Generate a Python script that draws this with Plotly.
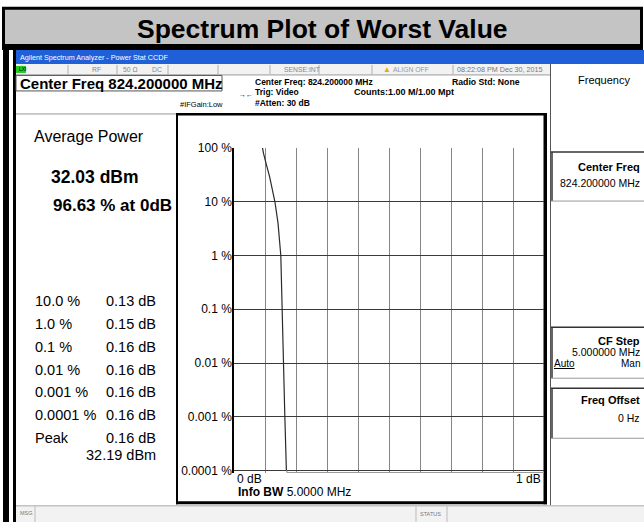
import plotly.graph_objects as go

# ---------------- data ----------------
ccdf_db = [0.092, 0.095, 0.104, 0.115, 0.132, 0.142, 0.151, 0.155, 0.158, 0.164, 0.169]
ccdf_pct = [100, 80, 50, 29, 10, 4, 1, 0.1, 0.01, 0.001, 0.0001]
tail_db = [0.169, 0.172, 1.0]
tail_pct = [0.0001, 0.0000915, 0.0000915]
y_tick_vals = [100, 10, 1, 0.1, 0.01, 0.001, 0.0001]
y_tick_text = ["100 %", "10 %", "1 %", "0.1 %", "0.01 %", "0.001 %", "0.0001 %"]
stat_labels = ["10.0 %", "1.0 %", "0.1 %", "0.01 %", "0.001 %", "0.0001 %", "Peak"]
stat_values = ["0.13 dB", "0.15 dB", "0.16 dB", "0.16 dB", "0.16 dB", "0.16 dB", "0.16 dB"]
peak_power = "32.19 dBm"
avg_power = "32.03 dBm"
avg_pct = "96.63 % at 0dB"

# ---------------- geometry helpers (pixel -> paper) ----------------
W, H = 644, 522
L, R, T, B = 234, 544, 148, 472.7
def X(px):
    return (px - L) / (R - L)
def Y(py):
    return (B - py) / (B - T)

shapes = []
annots = []
FONT = "Liberation Sans, Arial, sans-serif"

def rect(x0, y0, x1, y1, fill=None, line=None, lw=0, layer="below"):
    shapes.append(dict(type="rect", xref="paper", yref="paper",
                       x0=X(x0), x1=X(x1), y0=Y(y1), y1=Y(y0),
                       fillcolor=fill if fill else "rgba(0,0,0,0)",
                       line=dict(color=line if line else "rgba(0,0,0,0)", width=lw),
                       layer=layer))

def hline(x0, x1, y, color, lw=1, layer="below"):
    shapes.append(dict(type="line", xref="paper", yref="paper",
                       x0=X(x0), x1=X(x1), y0=Y(y), y1=Y(y),
                       line=dict(color=color, width=lw), layer=layer))

def vline(x, y0, y1, color, lw=1, layer="below"):
    shapes.append(dict(type="line", xref="paper", yref="paper",
                       x0=X(x), x1=X(x), y0=Y(y0), y1=Y(y1),
                       line=dict(color=color, width=lw), layer=layer))

def text(s, x, y, size, color="#000", anchor="left", bold=False, family=FONT):
    if bold:
        s = "<b>" + s + "</b>"
    annots.append(dict(text=s, xref="paper", yref="paper", x=X(x), y=Y(y),
                       xanchor=anchor, yanchor="middle", showarrow=False,
                       font=dict(size=size, color=color, family=family)))

# ---------------- banner ----------------
rect(2, 7, 643, 50, fill="#000000")
rect(5, 10, 640, 44, fill="#c4c4c4")
text("Spectrum Plot of Worst Value", 322, 29, 26.5, bold=True, anchor="center")
# left frame of screenshot
rect(3, 50, 9, 522, fill="#000000")
rect(13, 50, 16, 522, fill="#000000")

# ---------------- window title bar ----------------
rect(16, 50, 644, 64, fill="#1f5fd8")
text("Agilent Spectrum Analyzer - Power Stat CCDF", 18, 58, 7.2, color="#ffffff")

# status row
rect(16, 64, 550, 75, fill="#f2f2f2")
hline(16, 550, 75, "#9a9a9a")
for xd in [68, 117, 168, 218, 270, 319, 372, 453]:
    vline(xd, 65, 74.5, "#b0b0b0")
rect(16, 66, 26, 73, fill="#22cc22")
text("LXI", 17, 69.5, 5, color="#000")
text("RF", 90, 69.5, 6.8, color="#888")
text("50 Ω", 121, 69.5, 6.8, color="#888")
text("DC", 150, 69.5, 6.8, color="#888")
text("SENSE:INT", 282, 69.5, 6.8, color="#888")
text("▲", 381, 69.5, 8, color="#e0b000")
text("ALIGN OFF", 391, 69.5, 6.8, color="#999")
text("08:22:08 PM Dec 30, 2015", 455, 69.5, 7.2, color="#777")

# center freq box
rect(16, 75.5, 222, 91, fill="#ffffff", line="#555", lw=1)
text("Center Freq 824.200000 MHz", 18, 83.5, 15, bold=True)
text("→←", 237, 95, 7, color="#000")
text("Center Freq: 824.200000 MHz", 253, 82, 8.5, bold=True)
text("Radio Std: None", 450, 82, 8.7, bold=True)
text("Trig: Video", 253, 92.5, 8.5, bold=True)
text("Counts:1.00 M/1.00 Mpt", 352, 92.5, 9, bold=True)
text("#Atten: 30 dB", 253, 103.5, 8.5, bold=True)
text("#IFGain:Low", 178, 104.5, 7.5)

# right panel
vline(550.5, 64, 505, "#555", lw=1)
text("Frequency", 576, 80, 11)
# softkeys
for (y0, y1) in [(152, 201), (327, 378), (388, 438)]:
    hline(551, 644, y0, "#333", lw=1.5)
    vline(552, y0, y1, "#333", lw=1.5)
    hline(551, 644, y1, "#999", lw=1)
text("Center Freq", 642, 167, 11, bold=True, anchor="right")
text("824.200000 MHz", 642, 183, 10.5, anchor="right")
text("CF Step", 642, 341, 11, bold=True, anchor="right")
text("5.000000 MHz", 642, 352, 10.5, anchor="right")
text("<u>Auto</u>", 552, 363, 10)
text("Man", 642, 363, 10, anchor="right")
text("Freq Offset", 642, 400, 11, bold=True, anchor="right")
text("0 Hz", 642, 418, 10.5, anchor="right")

# left panel
hline(16, 177, 114, "#999", lw=1)
text("Average Power", 32, 137, 16)
text(avg_power, 49, 177, 17.5, bold=True)
text(avg_pct, 51, 205, 17, bold=True)
row_y = [301, 324, 347, 370, 392, 415, 438]
for lab, val, yy in zip(stat_labels, stat_values, row_y):
    text(lab, 33, yy, 14.5)
    text(val, 158, yy, 14.5, anchor="right")
text(peak_power, 158, 455, 14.5, anchor="right")

# plot frame
rect(176, 113, 178, 504, fill="#000")
rect(176, 113, 547, 115.5, fill="#000")
rect(543.5, 113, 547, 504, fill="#000")
rect(176, 501, 547, 504, fill="#000")
# axis labels
annots.append(dict(text="0 dB", xref="x", yref="paper", x=0, y=Y(479), xanchor="left",
                   yanchor="middle", showarrow=False, xshift=1,
                   font=dict(size=12, family=FONT, color="#000")))
annots.append(dict(text="1 dB", xref="x", yref="paper", x=1, y=Y(479), xanchor="right",
                   yanchor="middle", showarrow=False, xshift=-1,
                   font=dict(size=12, family=FONT, color="#000")))
text("<b>Info BW</b> 5.0000 MHz", 236, 492, 12)

# bottom status bar
rect(16, 505, 644, 522, fill="#f2f2f2")
hline(16, 644, 505.5, "#aaa")
text("MSG", 18, 513, 5.5, color="#777")
vline(35, 506, 522, "#bbb")
text("STATUS", 418, 514, 5.5, color="#777")
vline(416, 506, 522, "#bbb")
vline(447, 506, 522, "#bbb")

# ---------------- figure ----------------
fig = go.Figure()
fig.add_trace(go.Scatter(x=ccdf_db, y=ccdf_pct, mode="lines",
                         line=dict(color="#2a2a2a", width=1.2), showlegend=False,
                         hoverinfo="skip"))
fig.add_trace(go.Scatter(x=tail_db, y=tail_pct, mode="lines",
                         line=dict(color="#9a9a9a", width=1.2), showlegend=False,
                         hoverinfo="skip"))

fig.update_layout(
    width=W, height=H,
    margin=dict(l=L, r=W - R, t=T, b=H - B, pad=0),
    paper_bgcolor="#ffffff", plot_bgcolor="#ffffff",
    shapes=shapes, annotations=annots,
    showlegend=False,
    xaxis=dict(range=[0, 1], dtick=0.1, tick0=0, showticklabels=False,
               showgrid=True, gridcolor="#858585", gridwidth=1,
               zeroline=False, showline=False, ticks=""),
    yaxis=dict(type="log", range=[-4.045, 2], tickvals=y_tick_vals, ticktext=y_tick_text,
               showgrid=True, gridcolor="#3a3a3a", gridwidth=1, zeroline=False,
               showline=True, linecolor="#000", linewidth=1.5, ticks="",
               ticklabelstandoff=-2,
               tickfont=dict(size=12, family=FONT, color="#000")),
)
fig.write_html("out.html", config={"displayModeBar": False},
               post_script="document.body.style.margin='0';document.body.style.overflow='hidden';")
